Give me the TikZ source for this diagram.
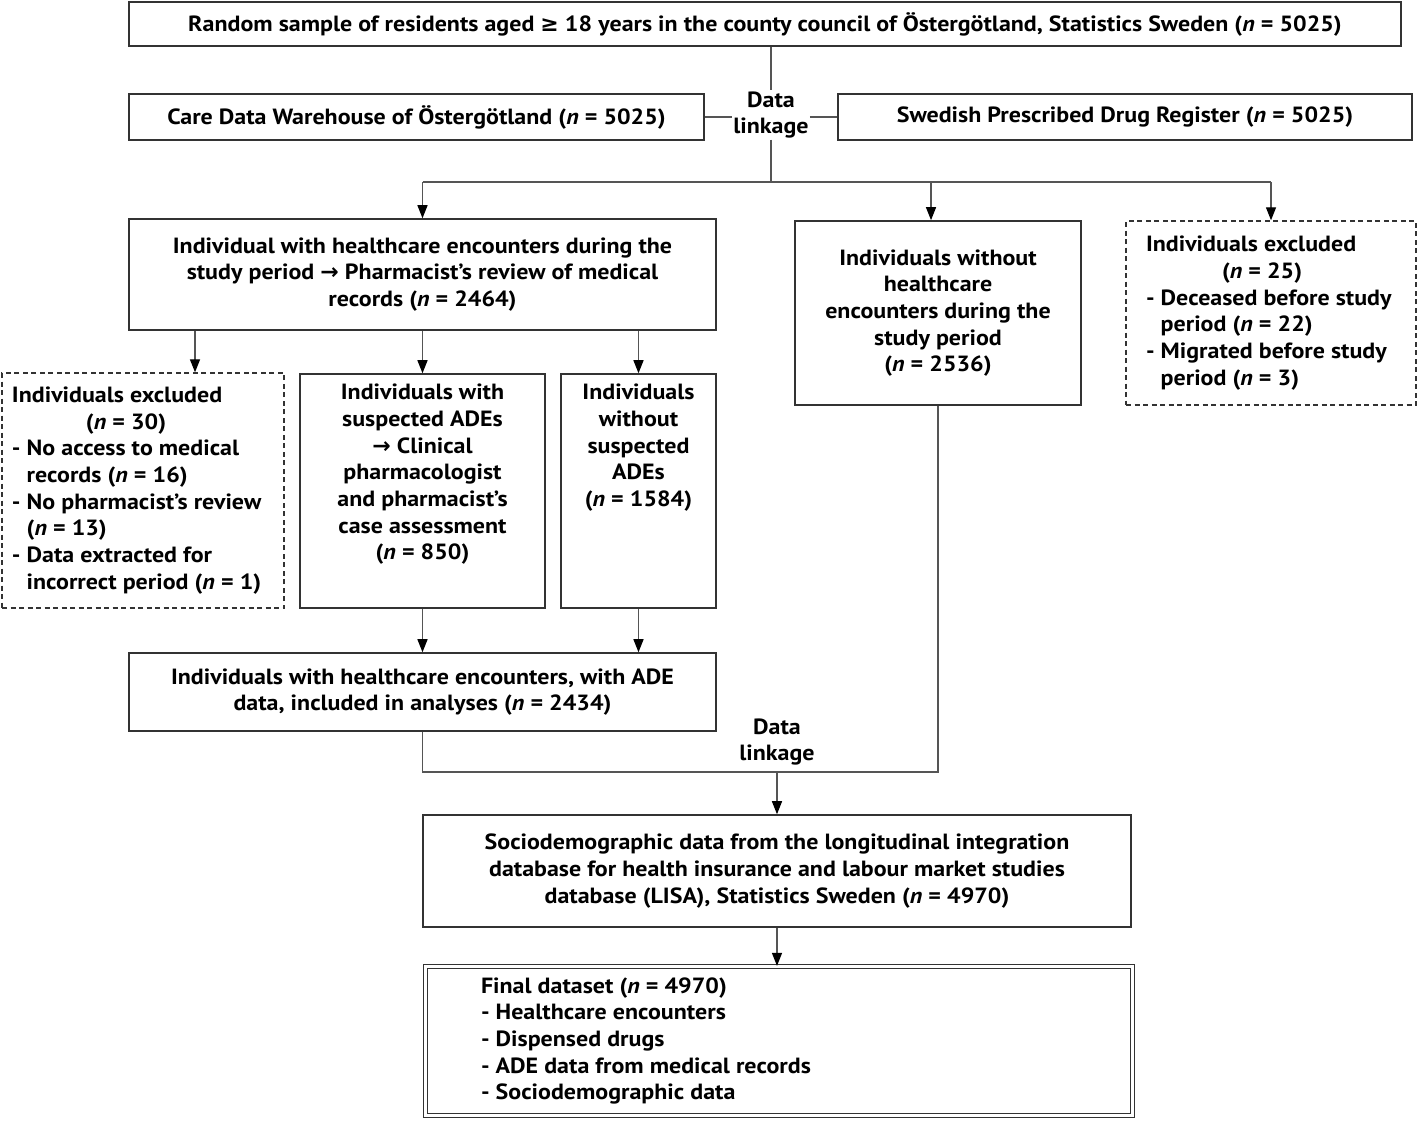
\documentclass[tikz,border=0pt]{standalone}
\usepackage{fontspec}
\setmainfont{PT Sans}[FakeStretch=1.09]
\newfontfamily\symfont{DejaVu Sans}
\usetikzlibrary{arrows.meta}
\definecolor{boxc}{HTML}{333333}
\definecolor{linec}{HTML}{555555}
\newcommand\mytxt{\fontsize{22}{26.7}\selectfont\bfseries}
\newcommand\nn{\textit{n}}
\newcommand\ar{{\symfont\bfseries\char"2192}}
\newcommand\geqs{{\symfont\bfseries\char"2265}}
\newcommand\hg{\hphantom{- }}
\tikzset{
  box/.style={draw=boxc, line width=1.6pt, inner sep=0pt, align=center, font=\mytxt},
  dbox/.style={box, dash pattern=on 5pt off 3.5pt, line width=1.4pt},
  conn/.style={draw=linec, line width=1.3pt},
  arr/.style={conn, -{Triangle[length=13pt,width=10pt,color=black]}},
  lbl/.style={inner sep=1pt, align=center, font=\mytxt},
}
\begin{document}
\begin{tikzpicture}[x=1pt,y=-1pt]
\useasboundingbox (0,0) rectangle (1418,1120);

\node[box, minimum width=1272, minimum height=44] (top) at (765,24)
  {Random sample of residents aged \geqs{} 18 years in the county council of Östergötland, Statistics Sweden (\nn{} = 5025)};
\node[box, minimum width=575, minimum height=46] (care) at (416.5,117)
  {Care Data Warehouse of Östergötland (\nn{} = 5025)};
\node[box, minimum width=574, minimum height=46] (swe) at (1125,117)
  {Swedish Prescribed Drug Register (\nn{} = 5025)};
\node[lbl] (dl1) at (771,115) {Data\\linkage};

\node[box, minimum width=587, minimum height=111] (hc) at (422.5,274.5)
  {Individual with healthcare encounters during the\\study period \ar{} Pharmacist’s review of medical\\records (\nn{} = 2464)};
\node[box, minimum width=286, minimum height=184] (wo) at (938,313)
  {Individuals without\\healthcare\\encounters during the\\study period\\(\nn{} = 2536)};
\node[dbox, minimum width=290, minimum height=184] (exR) at (1271,313)
  {\parbox{250pt}{\raggedright Individuals excluded\\
   \hspace*{76pt}(\nn{} = 25)\\
   - Deceased before study\\
   \hg period (\nn{} = 22)\\
   - Migrated before study\\
   \hg period (\nn{} = 3)}};

\node[dbox, minimum width=282, minimum height=235] (exL) at (143,490.5)
  {\parbox{262pt}{\raggedright Individuals excluded\\
   \hspace*{74pt}(\nn{} = 30)\\
   - No access to medical\\
   \hg records (\nn{} = 16)\\
   - No pharmacist’s review\\
   \hg (\nn{} = 13)\\
   - Data extracted for\\
   \hg incorrect period (\nn{} = 1)}};
\node[box, minimum width=245, minimum height=234] (ade) at (422.5,491)
  {\parbox[c][214pt][t]{240pt}{\centering Individuals with\\suspected ADEs\\\ar{} Clinical\\pharmacologist\\and pharmacist’s\\case assessment\\(\nn{} = 850)}};
\node[box, minimum width=155, minimum height=234] (noade) at (638.5,491)
  {\parbox[c][214pt][t]{150pt}{\centering Individuals\\without\\suspected\\ADEs\\(\nn{} = 1584)}};

\node[box, minimum width=587, minimum height=78] (inc) at (422.5,692)
  {Individuals with healthcare encounters, with ADE\\data, included in analyses (\nn{} = 2434)};
\node[lbl] (dl2) at (777,742) {Data\\linkage};

\node[box, minimum width=708, minimum height=112] (socio) at (777,871)
  {Sociodemographic data from the longitudinal integration\\database for health insurance and labour market studies\\database (LISA), Statistics Sweden (\nn{} = 4970)};
\node[box, double=white, double distance=2.5pt, line width=1.3pt, minimum width=707, minimum height=149] (final) at (779,1041)
  {\parbox{596pt}{\raggedright Final dataset (\nn{} = 4970)\\
   - Healthcare encounters\\
   - Dispensed drugs\\
   - ADE data from medical records\\
   - Sociodemographic data}};

% connectors
\coordinate (b1) at (771,182);
\coordinate (bw) at (931,182);
\coordinate (eL) at (195,330);
\coordinate (j) at (777,772);
\draw[conn] (top.south -| dl1) -- (dl1.north);
\draw[conn] (dl1.south) -- (b1);
\draw[conn] (care.east) -- (care.east -| dl1.west);
\draw[conn] (dl1.east |- swe.west) -- (swe.west);
\draw[conn] (hc.north |- b1) -- (b1 -| exR.north);
\draw[arr] (hc.north |- b1) -- (hc.north);
\draw[arr] (bw) -- (bw |- wo.north);
\draw[arr] (exR.north |- b1) -- (exR.north);
\draw[arr] (hc.south -| eL) -- (eL |- exL.north);
\draw[arr] (hc.south -| ade) -- (ade.north);
\draw[arr] (hc.south -| noade) -- (noade.north);
\draw[arr] (ade.south) -- (ade.south |- inc.north);
\draw[arr] (noade.south) -- (noade.south |- inc.north);
\draw[conn] (inc.south) -- (inc.south |- j) -- (j -| wo.south) -- (wo.south);
\draw[arr] (j) -- (socio.north);
\draw[arr] (socio.south) -- (socio.south |- final.north);
\end{tikzpicture}
\end{document}
